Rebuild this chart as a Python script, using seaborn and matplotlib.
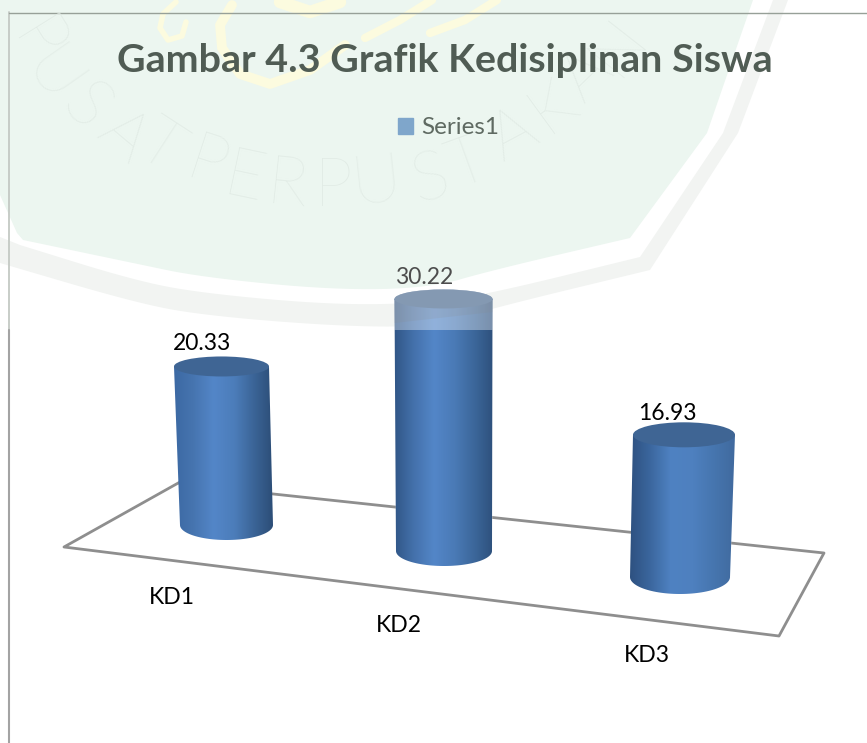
import numpy as np
import matplotlib
matplotlib.use("Agg")
import matplotlib.pyplot as plt
from matplotlib.colors import LinearSegmentedColormap
from matplotlib.patches import Ellipse, Polygon
import seaborn as sns

# values
categories = ["KD1", "KD2", "KD3"]
values = [20.33, 30.22, 16.93]
value_labels = ["20.33", "30.22", "16.93"]
series_name = "Series1"
title_text = "Gambar 4.3 Grafik Kedisiplinan Siswa"

W, H = 867, 743
PX_PER_UNIT = 8.34

# fake 3d layout, in pixels of the picture
depth = [0.935, 1.0, 1.007]
base_y = [525, 551, 577]
base_x = [226.5, 444, 680]
top_x = [221.5, 443.5, 684]
half_w = [47.5, 49, 51]
top_ry = [10, 9.5, 12.5]
bot_ry = [15, 15, 17]
shades = [
    ["#3B68A2", "#4674AF", "#5386C8", "#4C7DBA", "#3A6395", "#2A4A72"],
    ["#2F5484", "#4471AB", "#5386C8", "#4A7AB6", "#3B6699", "#2C4D78"],
    ["#2C4E7C", "#3A659C", "#4F82C2", "#4E80BF", "#4675AE", "#40699D"],
]
label_pos = [(202, 343), (424, 278), (667, 414)]
tick_pos = [(172, 598), (399, 625), (647, 656)]
label_colors = ["#000000", "#4d4d4d", "#000000"]


def pixel_axes(fig, z):
    a = fig.add_axes([0, 0, 1, 1], zorder=z)
    a.set_xlim(0, W)
    a.set_ylim(H, 0)
    a.axis("off")
    a.patch.set_alpha(0)
    return a


# round off the long bottom curve of the shield, the corners stay sharp
def soften(points, rounds=3):
    pts = np.array(points, dtype=float)
    for _ in range(rounds):
        a, b = pts[:-1], pts[1:]
        pts = np.vstack([pts[:1], np.column_stack([0.75 * a + 0.25 * b, 0.25 * a + 0.75 * b]).reshape(-1, 2), pts[-1:]])
    return [tuple(p) for p in pts]


def draw_watermark(a):
    band = [(788, 0), (738, 133), (650, 270)] + soften([(650, 270), (493, 308), (430, 327), (333, 326),
            (200, 315), (133, 302), (0, 263)]) + [(0, 0)]
    gap = [(773, 0), (723, 133), (640, 257)] + soften([(640, 257), (493, 293), (430, 303), (333, 305),
           (200, 293), (133, 280), (20, 245)]) + [(0, 237), (0, 0)]
    green = [(753, 0), (707, 133), (630, 238)] + soften([(630, 238), (493, 270), (430, 288), (333, 290),
             (200, 277), (133, 263), (23, 240)]) + [(17, 233), (0, 195), (0, 0)]
    a.add_patch(Polygon(band, color="#F2F4F2", lw=0))
    a.add_patch(Polygon(gap, color="white", lw=0))
    a.add_patch(Polygon(green, color="#ECF6F0", lw=0))
    # yellow emblem strokes
    yellow = "#FCFBDF"
    a.plot([176, 163, 160, 168, 182, 186], [2, 14, 28, 40, 36, 22], color=yellow, lw=4)
    a.plot([232, 220, 222, 240, 270, 310, 345], [5, 25, 48, 74, 84, 70, 45], color=yellow, lw=7)
    a.plot([280, 310, 340], [2, 12, 2], color=yellow, lw=9)
    a.plot([365, 400, 432], [38, 20, 0], color=yellow, lw=6)
    a.plot([430, 465, 497], [33, 20, 0], color=yellow, lw=6)
    # curved library text
    letters = [("P", 36, 44, -58), ("U", 52, 78, -55), ("S", 85, 108, -48), ("A", 123, 137, -40),
               ("T", 160, 147, -33), ("P", 207, 165, -18), ("E", 245, 180, -12), ("R", 287, 187, -6),
               ("P", 333, 188, 0), ("U", 377, 182, 6), ("S", 430, 180, 14), ("T", 468, 165, 20),
               ("A", 513, 135, 28), ("K", 553, 107, 36), ("A", 587, 75, 44), ("N", 618, 46, 52)]
    for ch, x, y, rot in letters:
        a.text(x, y, ch, fontsize=50, fontfamily="Lato", fontweight="light", color="#E1EBE5",
               ha="center", va="center", rotation=rot, rotation_mode="anchor")


sns.set_theme(style="white")
plt.rcParams["font.family"] = ["Lato", "DejaVu Sans"]

fig = plt.figure(figsize=(W / 100, H / 100), dpi=100)
fig.patch.set_facecolor("white")

ax_back = pixel_axes(fig, 1)
draw_watermark(ax_back)

# chart frame, fainter under the watermark
ax_back.plot([9, 9], [12, 330], color="#C4C9C4", lw=1.3)
ax_back.plot([9, 9], [330, H], color="#A3A3A3", lw=1.5)
ax_back.plot([9, W], [12.5, 12.5], color="#97A098", lw=1)

# floor of the 3d plot
ax_back.plot([180, 64, 779, 824, 180], [482, 547, 636, 553, 484], color="#8E8E8E", lw=2)

# bars
ax = fig.add_axes([0, 0, 1, 1], zorder=2)
sns.barplot(x=categories, y=values, color="#4F81BD", width=0.43, label=series_name, ax=ax)
ax.set_xlim(-224 / 220, (W - 224) / 220)
ax.set_ylim(0, H / PX_PER_UNIT)
ax.axis("off")
ax.patch.set_alpha(0)

ax_top = pixel_axes(fig, 3)

for i, bar in enumerate(ax.patches[:len(values)]):
    bx, tx, hw = base_x[i], top_x[i], half_w[i]
    bar_h = bar.get_height() * depth[i]
    bar.set_height(bar_h)
    bar.set_y((H - base_y[i]) / PX_PER_UNIT)
    # keep the flat bar inside the slanted cylinder
    inner = max(bx, tx) - hw + 1
    bar.set_x((inner - 224) / 220)
    bar.set_width((min(bx, tx) + hw - 1 - inner) / 220)

    top_y = base_y[i] - bar_h * PX_PER_UNIT
    t = np.linspace(0, np.pi, 60)
    bottom_edge = np.column_stack([bx + (hw - 1) * np.cos(t), base_y[i] + bot_ry[i] * np.sin(t)])
    outline = np.vstack([bottom_edge, [[tx - hw, top_y], [tx + hw, top_y]]])
    shape = Polygon(outline, closed=True, transform=ax_top.transData, fc="none", ec="none")
    ax_top.add_patch(shape)

    cmap = LinearSegmentedColormap.from_list("cyl%d" % i, shades[i])
    img = ax_top.imshow(np.linspace(0, 1, 256)[None, :], cmap=cmap, aspect="auto",
                        extent=(min(bx, tx) - hw - 2, max(bx, tx) + hw + 2, base_y[i] + 20, top_y))
    img.set_clip_path(shape)
    ax_top.add_patch(Ellipse((tx, top_y), 2 * hw, 2 * top_ry[i], fc="#3F6594", ec="none", zorder=3))

    # the watermark sheet washes out everything above y=330, only the middle bar reaches it
    if top_y < 330:
        t2 = np.linspace(np.pi, 2 * np.pi, 40)
        cap = np.column_stack([tx + hw * np.cos(t2), top_y + top_ry[i] * np.sin(t2)])
        veil = np.vstack([cap, [[tx + hw, 330], [tx - hw, 330]]])
        ax_top.add_patch(Polygon(veil, fc="white", ec="none", alpha=0.36, zorder=4))
        tint = np.vstack([cap, [[tx + hw, 312], [tx - hw, 323]]])
        ax_top.add_patch(Polygon(tint, fc="#8a8a8a", ec="none", alpha=0.16, zorder=4))

ax_top.set_xlim(0, W)
ax_top.set_ylim(H, 0)

for (x, y), txt, c in zip(label_pos, value_labels, label_colors):
    ax_top.text(x, y, txt, fontsize=16.5, color=c, ha="center", va="center", zorder=5)
for (x, y), cat in zip(tick_pos, categories):
    ax_top.text(x, y, cat, fontsize=16.5, color="black", ha="center", va="center", zorder=5)

ax_top.text(445, 60, title_text, fontsize=28.4, fontweight="bold", color="#505C54",
            ha="center", va="center", zorder=5)

leg = ax.legend(loc="center", bbox_to_anchor=(449 / W, 1 - 128 / H), frameon=False, fontsize=17.5,
                handlelength=0.6, handleheight=0.6, handletextpad=0.35, labelcolor="#5f6a62")
leg.legend_handles[0].set_color("#7FA6CB")

fig.savefig("out.png", dpi=100)
